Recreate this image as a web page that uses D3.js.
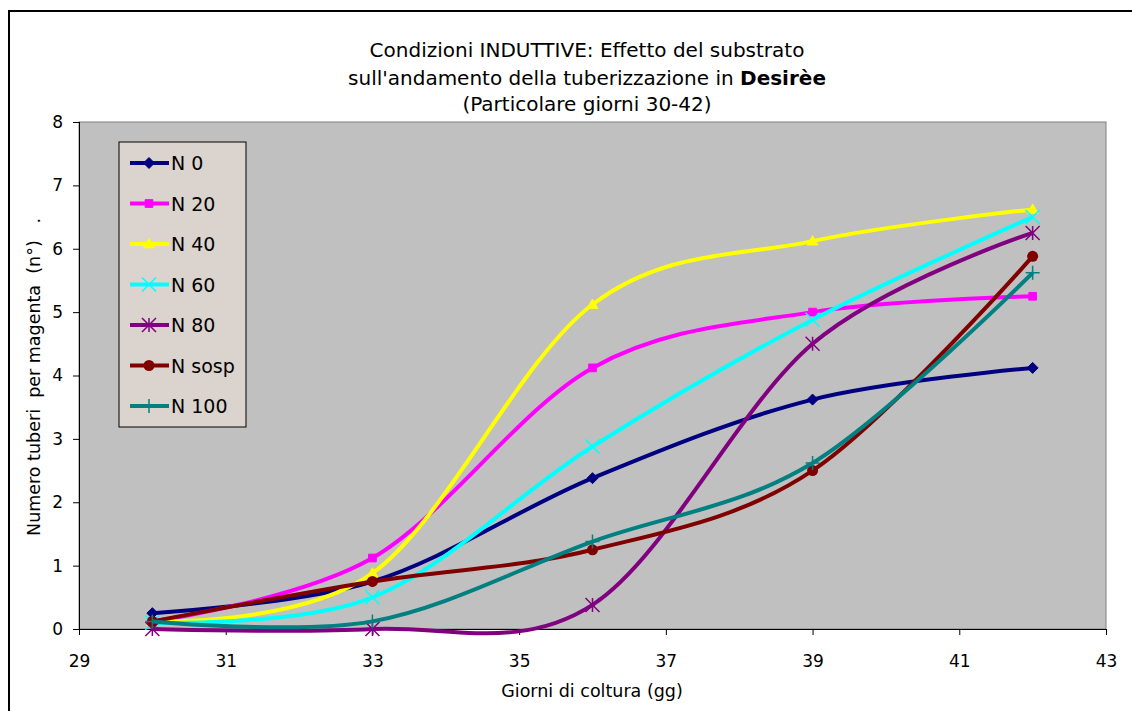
<!DOCTYPE html>
<html>
<head>
<meta charset="utf-8">
<script src="https://cdn.jsdelivr.net/npm/d3@7"></script>
<style>
  body { margin: 0; background: #fff; }
  text { font-family: Tahoma, "DejaVu Sans", sans-serif; fill: #000; }
</style>
</head>
<body>
<div id="chart"></div>
<script>
// giorni di coltura
var days = [30, 33, 36, 39, 42];
var seriesNames = ["N 0", "N 20", "N 40", "N 60", "N 80", "N sosp", "N 100"];
var n0    = [0.25, 0.75, 2.38, 3.62, 4.12];
var n20   = [0.12, 1.12, 4.12, 5.00, 5.25];
var n40   = [0.12, 0.88, 5.12, 6.12, 6.62];
var n60   = [0.10, 0.50, 2.88, 4.88, 6.50];
var n80   = [0.00, 0.00, 0.38, 4.50, 6.25];
var nsosp = [0.12, 0.75, 1.25, 2.50, 5.88];
var n100  = [0.12, 0.12, 1.38, 2.62, 5.62];
var xTicks = [29, 31, 33, 35, 37, 39, 41, 43];
var yTicks = [0, 1, 2, 3, 4, 5, 6, 7, 8];

var allValues = [n0, n20, n40, n60, n80, nsosp, n100];
var colors = ["#000080", "#ff00ff", "#ffff00", "#00ffff", "#800080", "#800000", "#008080"];
var markers = ["diamond", "square", "triangle", "x", "star", "circle", "plus"];

var width = 1132, height = 711;
var margin = {top: 122, right: 26, bottom: 82, left: 79};
var plotW = width - margin.left - margin.right;
var plotH = height - margin.top - margin.bottom;

var svg = d3.select("#chart").append("svg")
    .attr("width", width)
    .attr("height", height);

// outer frame
svg.append("rect")
    .attr("x", 9).attr("y", 11)
    .attr("width", 1200).attr("height", 800)
    .style("fill", "none").style("stroke", "#000").style("stroke-width", 2);

var x = d3.scaleLinear().domain([29, 43]).range([0, plotW]);
var y = d3.scaleLinear().domain([0, 8]).range([plotH, 0]);

var g = svg.append("g").attr("transform", "translate(" + margin.left + "," + margin.top + ")");

g.append("rect")
    .attr("width", plotW).attr("height", plotH)
    .style("fill", "#c0c0c0")
    .style("stroke", "#808080").style("stroke-width", 1);

// axes
var xAxis = d3.axisBottom(x).tickValues(xTicks).tickSize(6).tickFormat(d3.format("d"));
var yAxis = d3.axisLeft(y).tickValues(yTicks).tickSize(6).tickFormat(d3.format("d"));

var gx = g.append("g").attr("transform", "translate(0," + plotH + ")").call(xAxis);
gx.select(".domain").attr("d", "M0,0.5H" + plotW).style("stroke", "#000");
gx.selectAll("text").attr("dy", "1.7em").style("font-size", "17px");

var gy = g.append("g").call(yAxis);
gy.select(".domain").attr("d", "M0.5,0V" + plotH).style("stroke", "#000");
gy.selectAll("text").attr("x", -16).style("font-size", "17px");

var line = d3.line()
    .x(function(d) { return x(d.x); })
    .y(function(d) { return y(d.y); })
    .curve(d3.curveCardinal.tension(0));

function markerPath(type, s) {
  switch (type) {
    case "diamond": return "M0," + (-s) + "L" + s + ",0L0," + s + "L" + (-s) + ",0Z";
    case "square": return "M" + (-s*0.7) + "," + (-s*0.7) + "h" + (s*1.4) + "v" + (s*1.4) + "h" + (-s*1.4) + "Z";
    case "triangle": return "M0," + (-s) + "L" + s + "," + (s*0.7) + "L" + (-s) + "," + (s*0.7) + "Z";
    case "x": return "M" + (-s) + "," + (-s) + "L" + s + "," + s + "M" + (-s) + "," + s + "L" + s + "," + (-s);
    case "star": return "M" + (-s) + "," + (-s) + "L" + s + "," + s + "M" + (-s) + "," + s + "L" + s + "," + (-s) + "M0," + (-s) + "V" + s;
    case "plus": return "M" + (-s) + ",0H" + s + "M0," + (-s) + "V" + s;
  }
  return "";
}

function drawMarker(sel, type, color) {
  if (type === "circle") {
    sel.append("circle").attr("r", 5.5).style("fill", color);
  } else if (type === "x" || type === "star" || type === "plus") {
    sel.append("path").attr("d", markerPath(type, 7)).style("fill", "none")
      .style("stroke", color).style("stroke-width", 1.5);
  } else {
    sel.append("path").attr("d", markerPath(type, 5.5)).style("fill", color).style("stroke", color);
  }
}

seriesNames.forEach(function(name, i) {
  var pts = days.map(function(d, j) { return {x: d, y: allValues[i][j]}; });
  var sg = g.append("g").attr("class", "series");
  sg.append("path")
    .datum(pts)
    .attr("d", line)
    .style("fill", "none")
    .style("stroke", colors[i])
    .style("stroke-width", 4);
  sg.selectAll("g.mk").data(pts).enter().append("g")
    .attr("class", "mk")
    .attr("transform", function(d) { return "translate(" + x(d.x) + "," + y(d.y) + ")"; })
    .each(function() { drawMarker(d3.select(this), markers[i], colors[i]); });
});

// legend
var lg = svg.append("g").attr("transform", "translate(119,142)");
lg.append("rect").attr("width", 127).attr("height", 285)
  .style("fill", "#dbd3cd").style("stroke", "#000").style("stroke-width", 1);
seriesNames.forEach(function(name, i) {
  var yy = 21 + i * 40.5;
  var row = lg.append("g").attr("transform", "translate(0," + yy + ")");
  row.append("line").attr("x1", 11).attr("x2", 50).attr("y1", 0).attr("y2", 0)
    .style("stroke", colors[i]).style("stroke-width", 4);
  drawMarker(row.append("g").attr("transform", "translate(30,0)"), markers[i], colors[i]);
  row.append("text").attr("x", 52).attr("y", 7).style("font-size", "19px").text(name);
});

// title
var titleG = svg.append("text").attr("text-anchor", "middle").style("font-size", "20px");
titleG.append("tspan").attr("x", 587).attr("y", 57).text("Condizioni INDUTTIVE: Effetto del substrato");
var t2 = titleG.append("tspan").attr("x", 587).attr("y", 85);
t2.append("tspan").text("sull'andamento della tuberizzazione in ");
t2.append("tspan").style("font-weight", "bold").text("Desirèe");
titleG.append("tspan").attr("x", 587).attr("y", 111).text("(Particolare giorni 30-42)");

// axis titles
svg.append("text").attr("x", 592).attr("y", 697).attr("text-anchor", "middle")
  .style("font-size", "17.5px").text("Giorni di coltura (gg)");
svg.append("text")
  .attr("transform", "translate(40,377) rotate(-90)")
  .attr("text-anchor", "middle")
  .style("font-size", "17.5px")
  .style("white-space", "pre")
  .attr("xml:space", "preserve")
  .text("Numero tuberi  per magenta  (n°)   .");
</script>
</body>
</html>
